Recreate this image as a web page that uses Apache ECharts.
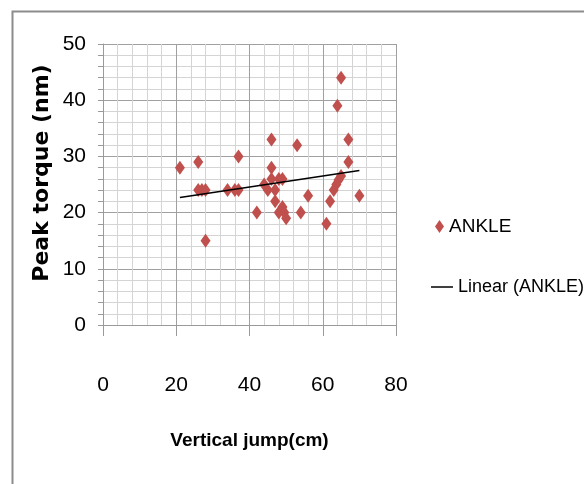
<!DOCTYPE html>
<html>
<head>
<meta charset="utf-8">
<script src="https://cdn.jsdelivr.net/npm/echarts@6/dist/echarts.min.js"></script>
<style>
  html, body { margin: 0; padding: 0; background: #fff; }
  #chart { width: 584px; height: 484px; }
</style>
</head>
<body>
<div id="chart"></div>
<script>
// vertical jump (cm) vs peak torque (nm)
const jump = [21, 26, 26, 27, 28, 28, 34, 36, 37, 37,
  42, 44, 45, 46, 46, 46, 47, 47, 48, 49, 48, 49, 49.5, 50,
  53, 54, 56, 61, 62, 63, 63.7, 64.3, 65, 64, 65, 67, 67, 70];
const torque = [28, 29, 24, 24, 24, 15, 24, 24, 24, 30,
  20, 25, 24, 33, 28, 26, 24, 22, 26, 26, 20, 21, 20, 19,
  32, 20, 23, 18, 22, 24, 25, 25.8, 26.5, 39, 44, 33, 29, 23];

// linear trend end points
const trendX = [21, 70];
const trendY = [22.7, 27.5];

const xTicks = { min: 0, max: 80, interval: 20 };
const yTicks = { min: 0, max: 50, interval: 10 };

const chart = echarts.init(document.getElementById('chart'));

const labelFont = '"Liberation Sans", sans-serif';

chart.setOption({
  animation: false,
  grid: { left: 103, right: 188, top: 44, bottom: 159 },
  graphic: [
    {
      type: 'rect',
      shape: { x: 12.5, y: 11.5, width: 620, height: 520 },
      style: { fill: 'none', stroke: '#8c8c8c', lineWidth: 2 }
    },
    {
      type: 'text',
      x: 42, y: 173, rotation: Math.PI / 2,
      style: {
        text: 'Peak torque (nm)',
        font: 'bold 22px "DejaVu Sans", sans-serif',
        fill: '#000',
        align: 'center', verticalAlign: 'middle'
      }
    }
  ],
  legend: [
    {
      data: [{ name: 'ANKLE', icon: 'diamond' }],
      left: 430, top: 212,
      itemWidth: 9, itemHeight: 13, itemGap: 8,
      textStyle: { fontFamily: labelFont, fontSize: 19, color: '#000' }
    },
    {
      data: [{ name: 'Linear (ANKLE)', icon: 'rect' }],
      left: 426, top: 273,
      itemWidth: 22, itemHeight: 1.5, itemGap: 3,
      textStyle: { fontFamily: labelFont, fontSize: 18, color: '#000' }
    }
  ],
  xAxis: {
    type: 'value',
    min: xTicks.min, max: xTicks.max, interval: xTicks.interval,
    name: 'Vertical jump(cm)',
    nameLocation: 'middle',
    nameGap: 106,
    nameTextStyle: { fontFamily: labelFont, fontWeight: 'bold', fontSize: 19, color: '#000' },
    axisLine: { show: true, lineStyle: { color: '#9a9a9a', width: 1 } },
    axisTick: { show: true, length: 11, lineStyle: { color: '#9a9a9a' } },
    axisLabel: { margin: 50, fontFamily: labelFont, fontSize: 21, color: '#000' },
    splitLine: { show: true, lineStyle: { color: '#a0a0a0', width: 1 } },
    minorTick: { show: false, splitNumber: 5 },
    minorSplitLine: { show: true, lineStyle: { color: '#d4d4d4', width: 1 } }
  },
  yAxis: {
    type: 'value',
    min: yTicks.min, max: yTicks.max, interval: yTicks.interval,
    axisLine: { show: true, lineStyle: { color: '#9a9a9a', width: 1 } },
    axisTick: { show: true, length: 5, lineStyle: { color: '#9a9a9a' } },
    axisLabel: { margin: 17, fontFamily: labelFont, fontSize: 21, color: '#000' },
    splitLine: { show: true, lineStyle: { color: '#a0a0a0', width: 1 } },
    minorTick: { show: true, splitNumber: 5, length: 5, lineStyle: { color: '#9a9a9a' } },
    minorSplitLine: { show: true, lineStyle: { color: '#d4d4d4', width: 1 } }
  },
  series: [
    {
      name: 'ANKLE',
      type: 'scatter',
      symbol: 'diamond',
      symbolSize: [10, 14],
      itemStyle: { color: '#c0504d', opacity: 1 },
      data: jump.map((x, i) => [x, torque[i]]),
      z: 3
    },
    {
      name: 'Linear (ANKLE)',
      type: 'line',
      symbol: 'none',
      lineStyle: { color: '#000', width: 1.5 },
      itemStyle: { color: '#000' },
      data: trendX.map((x, i) => [x, trendY[i]]),
      z: 4
    }
  ]
});
</script>
</body>
</html>
